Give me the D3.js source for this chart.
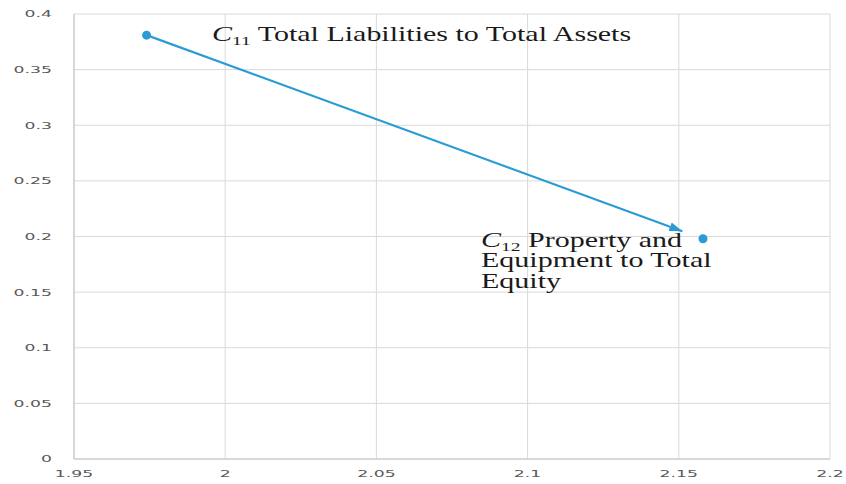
<!DOCTYPE html>
<html>
<head>
<meta charset="utf-8">
<script src="https://cdn.jsdelivr.net/npm/d3@7"></script>
<style>
  body { margin: 0; background: #fff; }
  svg { display: block; }
</style>
</head>
<body>
<div id="chart-area"></div>
<script>
// data
const pointNames = ["C11", "C12"]
const pointX = [1.974, 2.158]
const pointY = [0.381, 0.198]
const xTicks = [1.95, 2, 2.05, 2.1, 2.15, 2.2]
const yTicks = [0, 0.05, 0.1, 0.15, 0.2, 0.25, 0.3, 0.35, 0.4]
const labelLines = [
  ["Total Liabilities to Total Assets"],
  ["Property and", "Equipment to Total", "Equity"]
]

const width = 846, height = 484
const blue = "#2b9bd6"
const sx = 1.5 // text in the picture is stretched sideways

const svg = d3.select("#chart-area").append("svg")
  .attr("width", width)
  .attr("height", height)

const x = d3.scaleLinear().domain([1.95, 2.2]).range([74, 830])
const y = d3.scaleLinear().domain([0, 0.4]).range([459, 14])

// grid
svg.append("g").selectAll("line.h")
  .data(yTicks.slice(1))
  .enter().append("line")
  .attr("x1", x(1.95)).attr("x2", x(2.2))
  .attr("y1", d => y(d)).attr("y2", d => y(d))
  .attr("stroke", "#d9d9d9").attr("stroke-width", 1)

svg.append("g").selectAll("line.v")
  .data(xTicks.slice(1))
  .enter().append("line")
  .attr("x1", d => x(d)).attr("x2", d => x(d))
  .attr("y1", y(0)).attr("y2", y(0.4))
  .attr("stroke", "#d9d9d9").attr("stroke-width", 1)

// axis lines
svg.append("line")
  .attr("x1", x(1.95)).attr("x2", x(1.95))
  .attr("y1", y(0)).attr("y2", y(0.4))
  .attr("stroke", "#cdcdcd").attr("stroke-width", 1.6)
svg.append("line")
  .attr("x1", x(1.95)).attr("x2", x(2.2))
  .attr("y1", y(0)).attr("y2", y(0))
  .attr("stroke", "#cdcdcd").attr("stroke-width", 1.6)

// tick labels
svg.append("g").selectAll("g")
  .data(yTicks)
  .enter().append("g")
  .attr("transform", d => `translate(52,${y(d)}) scale(1.8,1)`)
  .append("text")
  .attr("text-anchor", "end")
  .attr("dominant-baseline", "central")
  .attr("font-family", "DejaVu Sans")
  .attr("font-size", 9.6)
  .attr("fill", "#595959")
  .text(d => d)

svg.append("g").selectAll("g")
  .data(xTicks)
  .enter().append("g")
  .attr("transform", d => `translate(${x(d)},474) scale(1.8,1)`)
  .append("text")
  .attr("text-anchor", "middle")
  .attr("dominant-baseline", "central")
  .attr("font-family", "DejaVu Sans")
  .attr("font-size", 9.6)
  .attr("fill", "#595959")
  .text(d => d)

// arrow from first point toward second
svg.append("defs").append("marker")
  .attr("id", "head")
  .attr("viewBox", "0 0 13 9")
  .attr("refX", 13).attr("refY", 4.5)
  .attr("markerWidth", 13).attr("markerHeight", 9)
  .attr("markerUnits", "userSpaceOnUse")
  .attr("orient", "auto")
  .append("path")
  .attr("d", "M0,0 L13,4.5 L0,9 Z")
  .attr("fill", blue)

const x0 = x(pointX[0]), y0 = y(pointY[0])
const x1 = x(pointX[1]), y1 = y(pointY[1])
const len = Math.hypot(x1 - x0, y1 - y0)
const gap = 22
svg.append("line")
  .attr("x1", x0).attr("y1", y0)
  .attr("x2", x0 + (x1 - x0) * (len - gap) / len)
  .attr("y2", y0 + (y1 - y0) * (len - gap) / len)
  .attr("stroke", blue)
  .attr("stroke-width", 2.2)
  .attr("marker-end", "url(#head)")

svg.selectAll("circle")
  .data(pointX)
  .enter().append("circle")
  .attr("cx", d => x(d))
  .attr("cy", (d, i) => y(pointY[i]))
  .attr("r", 4.5)
  .attr("fill", blue)

// labels
const labelPos = [[212, 41], [481, 247]]
const lineGap = 20.5

labelLines.forEach((lines, i) => {
  const g = svg.append("g")
    .attr("transform", `translate(${labelPos[i][0]},${labelPos[i][1]}) scale(${sx},1)`)
  const t = g.append("text")
    .attr("font-family", "Liberation Serif")
    .attr("font-size", 20)
    .attr("fill", "#1a1a1a")
  t.append("tspan")
    .attr("font-style", "italic")
    .text(pointNames[i].charAt(0))
  t.append("tspan")
    .attr("font-size", 13)
    .attr("dy", 4)
    .text(pointNames[i].slice(1))
  t.append("tspan")
    .attr("dy", -4)
    .text(" " + lines[0])
  lines.slice(1).forEach((line, j) => {
    g.append("text")
      .attr("y", (j + 1) * lineGap)
      .attr("font-family", "Liberation Serif")
      .attr("font-size", 20)
      .attr("fill", "#1a1a1a")
      .text(line)
  })
})
</script>
</body>
</html>
